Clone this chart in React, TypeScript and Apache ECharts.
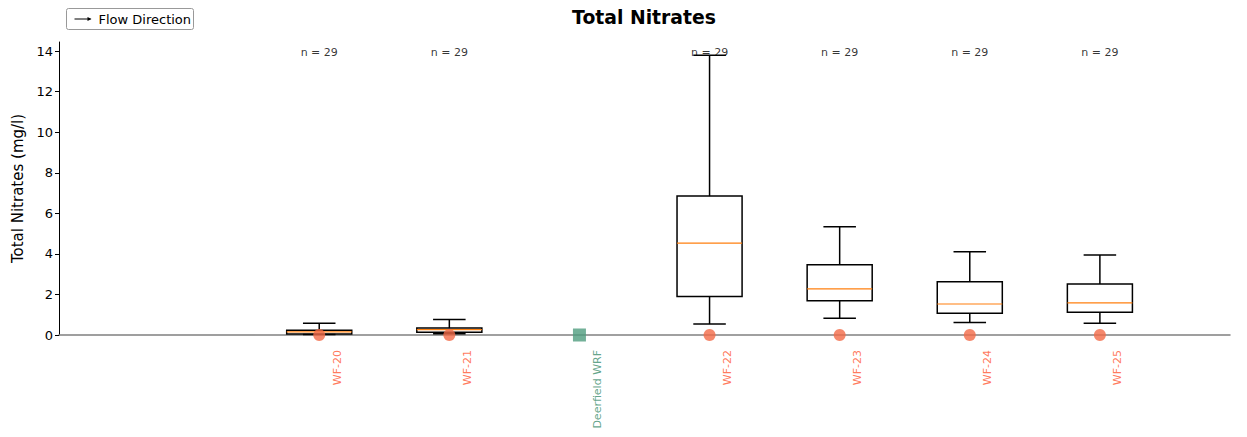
import React, { useEffect, useRef } from "react";
import * as echarts from "echarts";

// ---- data ----
const sites = ["WF-20", "WF-21", "Deerfield WRF", "WF-22", "WF-23", "WF-24", "WF-25"];
const siteKinds = ["well", "well", "wrf", "well", "well", "well", "well"];
const whiskerLow = [0.02, 0.06, null, 0.54, 0.82, 0.62, 0.58];
const quartile1 = [0.05, 0.14, null, 1.9, 1.69, 1.07, 1.12];
const medians = [0.15, 0.27, null, 4.53, 2.27, 1.53, 1.58];
const quartile3 = [0.24, 0.34, null, 6.85, 3.47, 2.63, 2.51];
const whiskerHigh = [0.58, 0.77, null, 13.8, 5.34, 4.11, 3.94];
const sampleCounts = [29, 29, null, 29, 29, 29, 29];
const yTicks = [0, 2, 4, 6, 8, 10, 12, 14];
const xExtent = [0, 9];
const yExtent = [0, 14.45];
const firstSiteSlot = 2;

const WELL_COLOR = "#f26a47";
const WRF_COLOR = "#4f9c7e";
const WELL_LABEL = "#ff5530";
const WRF_LABEL = "#3b8d6c";

export default function App() {
  const ref = useRef<HTMLDivElement>(null);

  useEffect(() => {
    if (!ref.current) return;
    const chart = echarts.init(ref.current, undefined, { renderer: "svg" });

    const boxData: any[] = [];
    sites.forEach((s, i) => {
      if (medians[i] != null) {
        boxData.push([i + firstSiteSlot, whiskerLow[i], quartile1[i], medians[i], quartile3[i], whiskerHigh[i]]);
      }
    });

    const markerData = sites.map((s, i) => ({
      name: s,
      value: [i + firstSiteSlot, 0],
      symbol: siteKinds[i] === "wrf" ? "rect" : "circle",
      symbolSize: siteKinds[i] === "wrf" ? 13 : 12,
      itemStyle: { color: siteKinds[i] === "wrf" ? WRF_COLOR : WELL_COLOR, opacity: 0.8 },
    }));

    const labelData = sites.map((s, i) => ({
      name: s,
      value: [i + firstSiteSlot, 0],
      label: { color: siteKinds[i] === "wrf" ? WRF_LABEL : WELL_LABEL },
    }));

    const countData: any[] = [];
    sites.forEach((s, i) => {
      if (sampleCounts[i] != null) countData.push({ name: "n = " + sampleCounts[i], value: [i + firstSiteSlot, 14] });
    });

    const option: any = {
      animation: false,
      textStyle: { fontFamily: "DejaVu Sans" },
      title: {
        text: "Total Nitrates",
        left: 644,
        textAlign: "center",
        top: 8,
        padding: 0,
        textStyle: { fontSize: 18.8, fontWeight: "bold", color: "#000", fontFamily: "DejaVu Sans" },
      },
      grid: { left: 59, right: 17, top: 42, bottom: 102, outerBoundsMode: "none", containLabel: false },
      xAxis: {
        type: "value",
        min: xExtent[0],
        max: xExtent[1],
        axisLine: { show: true, lineStyle: { color: "#808080", width: 1.5 } },
        axisTick: { show: false },
        axisLabel: { show: false },
        splitLine: { show: false },
      },
      yAxis: {
        type: "value",
        min: yExtent[0],
        max: yExtent[1],
        name: "Total Nitrates (mg/l)",
        nameLocation: "middle",
        nameGap: 31,
        nameTextStyle: { fontSize: 15, color: "#000", fontFamily: "DejaVu Sans" },
        axisLine: { show: true, lineStyle: { color: "#000", width: 1 } },
        axisTick: { show: true, length: 4, customValues: yTicks, lineStyle: { color: "#000" } },
        axisLabel: { fontSize: 13, color: "#000", margin: 6, customValues: yTicks },
        splitLine: { show: false },
      },
      series: [
        {
          type: "custom",
          data: boxData,
          encode: { x: 0, y: [1, 2, 3, 4, 5] },
          z: 2,
          renderItem: (params: any, api: any) => {
            const x = api.value(0);
            const boxW = api.size([0.5, 0])[0];
            const capW = boxW / 2;
            const p = (v: number) => api.coord([x, v]);
            const [cx, yLo] = p(api.value(1));
            const yQ1 = p(api.value(2))[1];
            const yMed = p(api.value(3))[1];
            const yQ3 = p(api.value(4))[1];
            const yHi = p(api.value(5))[1];
            const black = { stroke: "#000", lineWidth: 1.5, fill: null };
            return {
              type: "group",
              children: [
                { type: "line", shape: { x1: cx, y1: yLo, x2: cx, y2: yQ1 }, style: black },
                { type: "line", shape: { x1: cx, y1: yQ3, x2: cx, y2: yHi }, style: black },
                { type: "line", shape: { x1: cx - capW / 2, y1: yLo, x2: cx + capW / 2, y2: yLo }, style: black },
                { type: "line", shape: { x1: cx - capW / 2, y1: yHi, x2: cx + capW / 2, y2: yHi }, style: black },
                {
                  type: "rect",
                  shape: { x: cx - boxW / 2, y: yQ3, width: boxW, height: yQ1 - yQ3 },
                  style: { fill: "none", stroke: "#000", lineWidth: 1.5 },
                },
                {
                  type: "line",
                  shape: { x1: cx - boxW / 2, y1: yMed, x2: cx + boxW / 2, y2: yMed },
                  style: { stroke: "#ff7f0e", lineWidth: 1.2 },
                },
              ],
            };
          },
        },
        {
          type: "scatter",
          data: markerData,
          z: 3,
          silent: true,
        },
        {
          type: "scatter",
          data: labelData,
          symbolSize: 0,
          silent: true,
          z: 4,
          label: {
            show: true,
            formatter: "{b}",
            position: "inside",
            rotate: 90,
            align: "right",
            verticalAlign: "middle",
            offset: [-15, 18],
            fontSize: 11,
            fontFamily: "DejaVu Sans",
          },
        },
        {
          type: "scatter",
          data: countData,
          symbolSize: 0,
          silent: true,
          z: 4,
          label: {
            show: true,
            formatter: "{b}",
            position: "inside",
            offset: [0, 1],
            fontSize: 11,
            color: "#000",
            fontFamily: "DejaVu Sans",
          },
        },
      ],
      graphic: [
        {
          type: "group",
          left: 66,
          top: 8,
          children: [
            {
              type: "rect",
              shape: { x: 0, y: 0, width: 127, height: 21, r: 2 },
              style: { fill: "#fff", stroke: "#999", lineWidth: 1 },
            },
            {
              type: "line",
              shape: { x1: 8, y1: 10.5, x2: 24, y2: 10.5 },
              style: { stroke: "#000", lineWidth: 1 },
            },
            {
              type: "polygon",
              shape: { points: [[25, 10.5], [21, 8.5], [21, 12.5]] },
              style: { fill: "#000" },
            },
            {
              type: "text",
              x: 32,
              y: 10.5,
              style: {
                text: "Flow Direction",
                fontSize: 13,
                fontFamily: "DejaVu Sans",
                fill: "#000",
                verticalAlign: "middle",
                align: "left",
              },
            },
          ],
        },
      ],
    };

    chart.setOption(option);
    return () => chart.dispose();
  }, []);

  return (
    <div
      ref={ref}
      style={{ position: "fixed", left: 0, top: 0, width: 1247, height: 437, background: "#fff" }}
    />
  );
}
